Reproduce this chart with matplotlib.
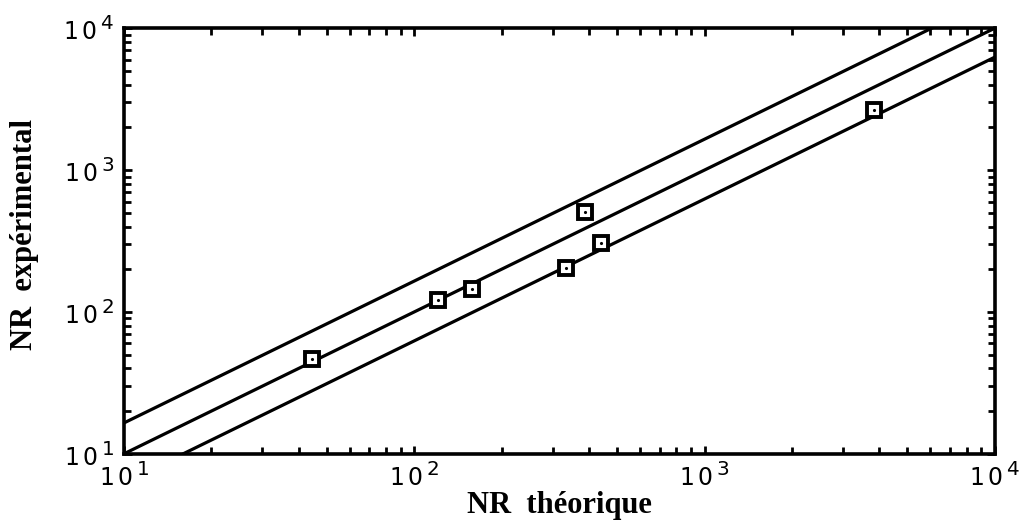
import matplotlib
matplotlib.use("Agg")
import matplotlib.pyplot as plt
import matplotlib._mathtext as mtext
import numpy as np
from matplotlib.ticker import LogLocator, FuncFormatter, NullFormatter

plt.rcParams['mathtext.fontset'] = 'custom'
plt.rcParams['mathtext.rm'] = 'Liberation Sans'
plt.rcParams['mathtext.default'] = 'regular'
# exponents in the original are almost as big as the base digits
mtext.SHRINK_FACTOR = 0.85

# measured points (NR theorique, NR experimental)
nr_theo = [44.5, 121, 158, 333, 387, 440, 3840]
nr_exp = [46.7, 122, 145, 204, 506, 306, 2630]

# reference lines: y = factor * x
line_factors = [1.65, 1.0, 1 / 1.6]
line_x = [10, 1e4]

fig = plt.figure(figsize=(10.33, 5.32), dpi=100)
ax = fig.add_axes([0.120, 0.147, 0.843, 0.800])

for f in line_factors:
    ax.plot(line_x, [f * v for v in line_x], color='black', lw=2.3, solid_capstyle='butt')

ax.plot(nr_theo, nr_exp, linestyle='none', marker='s', ms=9.5, mfc='white',
        mec='black', mew=2.8, zorder=5)
ax.plot(nr_theo, nr_exp, linestyle='none', marker='.', ms=2.5, color='black', zorder=6)

ax.set_xscale('log')
ax.set_yscale('log')
ax.set_xlim(10, 1e4)
ax.set_ylim(10, 1e4)

fmt = FuncFormatter(lambda v, p: r'$1\,0^{\,%d}$' % round(np.log10(v)))
for axis in (ax.xaxis, ax.yaxis):
    axis.set_major_locator(LogLocator(base=10, numticks=10))
    axis.set_minor_locator(LogLocator(base=10, subs=np.arange(2, 10), numticks=20))
    axis.set_major_formatter(fmt)
    axis.set_minor_formatter(NullFormatter())

ax.tick_params(which='both', direction='in', top=True, right=True, width=2, color='black')
ax.tick_params(which='major', length=6, labelsize=17)
ax.tick_params(axis='x', which='major', pad=6)
ax.tick_params(axis='y', which='major', pad=7)
ax.tick_params(which='minor', length=5)

for s in ax.spines.values():
    s.set_linewidth(2.6)

ax.set_xlabel('NR  théorique', fontfamily='Liberation Serif', fontweight='bold', fontsize=22, labelpad=0)
ax.set_ylabel('NR  expérimental', fontfamily='Liberation Serif', fontweight='bold', fontsize=22)
ax.yaxis.set_label_coords(-0.097, 0.515)

fig.savefig('out.png', dpi=100)
